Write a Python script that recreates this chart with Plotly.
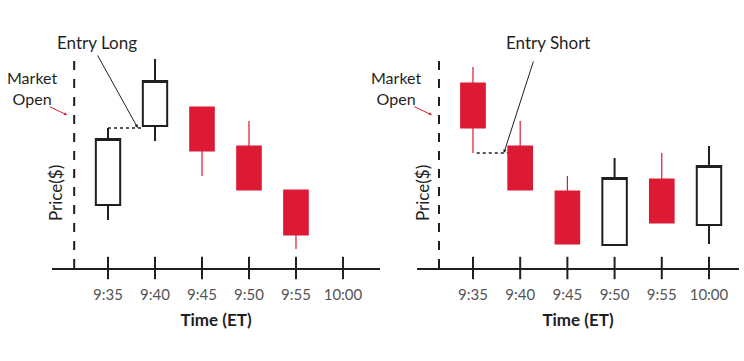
import plotly.graph_objects as go

# minutes after 9:30
minutes = [5, 10, 15, 20, 25, 30]
tick_labels = ["9:35", "9:40", "9:45", "9:50", "9:55", "10:00"]

# Left panel (Entry Long)
long_x = [5, 10, 15, 20, 25]
long_open = [106.3, 114.2, 116.1, 112.2, 107.8]
long_high = [114.0, 120.9, 116.1, 114.7, 107.8]
long_low = [104.8, 112.7, 109.2, 107.8, 101.9]
long_close = [112.9, 118.7, 111.7, 107.8, 103.3]

# Right panel (Entry Short)
short_x = [5, 10, 15, 20, 25, 30]
short_open = [118.5, 112.2, 107.7, 102.3, 108.9, 104.3]
short_high = [120.1, 114.7, 109.2, 111.0, 111.5, 112.2]
short_low = [111.5, 107.8, 102.4, 102.3, 104.5, 102.4]
short_close = [114.0, 107.8, 102.4, 109.0, 104.5, 110.2]

market_open_min = 1.4
base_price = 100.0
dash_top = 120.8

RED = "#DC1A35"
INK = "#1f1f1f"
FONT = "Lato"
W, H = 744, 361

def px_x(p):
    return p / W

def px_y(p):
    return (H - p) / H

fig = go.Figure()

def add_candles(x, o, h, l, c, xa, ya):
    fig.add_trace(go.Candlestick(
        x=x, open=o, high=h, low=l, close=c, xaxis=xa, yaxis=ya,
        increasing=dict(fillcolor="white", line=dict(color=INK, width=2)),
        decreasing=dict(fillcolor=RED, line=dict(color=RED, width=1.2)),
        whiskerwidth=0, showlegend=False, hoverinfo="skip",
    ))
    fig.add_trace(go.Scatter(
        x=minutes, y=[base_price] * len(minutes), xaxis=xa, yaxis=ya,
        mode="markers", marker=dict(symbol="line-ns", size=16,
                                    line=dict(color=INK, width=2)),
        showlegend=False, hoverinfo="skip", cliponaxis=False,
    ))

add_candles(long_x, long_open, long_high, long_low, long_close, "x", "y")
add_candles(short_x, short_open, short_high, short_low, short_close, "x2", "y2")

axis_common = dict(
    tickvals=minutes, ticktext=tick_labels, ticks="", showgrid=False,
    zeroline=False, showline=True, linecolor=INK, linewidth=2,
    tickfont=dict(family=FONT, size=15, color="#555555"),
    ticklabelstandoff=12,
    title=dict(text="<b>Time (ET)</b>", font=dict(family=FONT, size=17, color=INK),
               standoff=12),
    rangeslider=dict(visible=False), fixedrange=True, automargin=False,
)
yaxis_common = dict(range=[base_price, 124.8], visible=False, fixedrange=True,
                    domain=[px_y(268), px_y(20)])

fig.update_layout(
    width=W, height=H, margin=dict(l=0, r=0, t=0, b=0),
    paper_bgcolor="white", plot_bgcolor="white",
    boxmode="overlay", boxgap=0.26, boxgroupgap=0.3,
    xaxis=dict(domain=[px_x(52), px_x(380)], range=[-0.96, 33.94], anchor="y", **axis_common),
    xaxis2=dict(domain=[px_x(417), px_x(739)], range=[-0.93, 33.18], anchor="y2", **axis_common),
    yaxis=dict(anchor="x", **yaxis_common),
    yaxis2=dict(anchor="x2", **yaxis_common),
)

shapes = []
annotations = []
for xr, yr, price_px, market_px in [("x", "y", 55, 32), ("x2", "y2", 422, 396)]:
    shapes.append(dict(type="line", xref=xr, yref=yr, x0=market_open_min, x1=market_open_min,
                       y0=base_price, y1=dash_top, line=dict(color=INK, width=2, dash="dash")))
    annotations.append(dict(xref="paper", yref="paper", x=px_x(price_px), y=px_y(193),
                            xanchor="center", yanchor="middle",
                            text="Price($)", textangle=-90, showarrow=False,
                            font=dict(family=FONT, size=17, color=INK)))
    annotations.append(dict(xref="paper", yref="paper", x=px_x(market_px), y=px_y(88),
                            xanchor="center", yanchor="middle",
                            text="Market<br>Open", showarrow=False,
                            font=dict(family=FONT, size=16, color=INK)))
    annotations.append(dict(xref=xr, yref=yr, x=market_open_min - 0.75, y=base_price + (268 - 115) / 10,
                            text="", showarrow=True, ax=-19, ay=-9, arrowhead=2, arrowsize=0.6,
                            arrowwidth=1, arrowcolor=RED))

# Entry Long: dotted line from 9:35 high to 9:40 body
half_body = 2.66 / 2
shapes.append(dict(type="line", xref="x", yref="y", x0=long_x[0], x1=long_x[1] - half_body,
                   y0=long_high[0], y1=long_high[0], line=dict(color=INK, width=1.5, dash="dot")))
annotations.append(dict(xref="paper", yref="paper", x=px_x(97), y=px_y(42),
                        xanchor="center", yanchor="middle",
                        text="Entry Long", showarrow=False, font=dict(family=FONT, size=17, color=INK)))
annotations.append(dict(xref="x", yref="y", x=long_x[1] - half_body - 0.5, y=long_high[0],
                        text="", showarrow=True, ax=-41, ay=-74, arrowhead=2, arrowsize=0.7,
                        arrowwidth=1, arrowcolor=INK))

# Entry Short: dotted line from 9:35 low to 9:40 body
shapes.append(dict(type="line", xref="x2", yref="y2", x0=short_x[0] + 0.4, x1=short_x[1] - half_body,
                   y0=short_low[0], y1=short_low[0], line=dict(color=INK, width=1.5, dash="dot")))
annotations.append(dict(xref="paper", yref="paper", x=px_x(548), y=px_y(42),
                        xanchor="center", yanchor="middle",
                        text="Entry Short", showarrow=False, font=dict(family=FONT, size=17, color=INK)))
annotations.append(dict(xref="x2", yref="y2", x=short_x[1] - half_body - 0.4, y=short_low[0],
                        text="", showarrow=True, ax=30, ay=-93, arrowhead=2, arrowsize=0.7,
                        arrowwidth=1, arrowcolor=INK))

fig.update_layout(shapes=shapes, annotations=annotations)
fig.write_html("out.html", config={"displayModeBar": False},
               post_script="document.body.style.margin='0px';")
